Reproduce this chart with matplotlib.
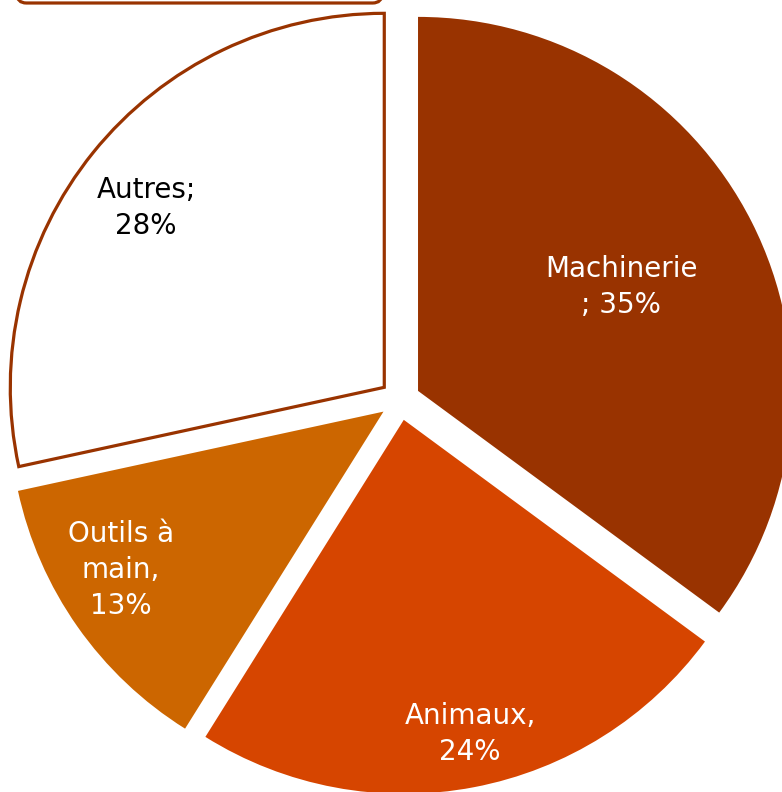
import matplotlib
matplotlib.use("Agg")
import matplotlib.pyplot as plt
from matplotlib.patches import FancyBboxPatch

categories = ["Machinerie", "Animaux", "Outils à main", "Autres"]
labels = ["Machinerie\n; 35%", "Animaux,\n24%", "Outils à\nmain,\n13%", "Autres;\n28%"]
values = [35.1, 23.8, 12.7, 28.4]

colors = ["#993300", "#D64500", "#CC6600", "#FFFFFF"]
text_colors = ["white", "white", "white", "black"]
dark = "#993300"

# layout (pixel-space mapping: centre at px (400,400), radius 374 px)
W, H = 782, 792
cx_px, cy_px, r_px = 400, 400, 374
label_px = [(621, 287), (470, 734), (121, 570), (146, 208)]

fig = plt.figure(figsize=(W / 100, H / 100), dpi=100)
ax = fig.add_axes([0, 0, 1, 1])

wedges, _ = ax.pie(values, colors=colors, startangle=90, counterclock=False,
                   explode=[0.054] * len(values), radius=1.0, center=(0, 0),
                   frame=True, wedgeprops=dict(linewidth=0))
wedges[3].set_edgecolor(dark)
wedges[3].set_linewidth(2.3)
wedges[3].set_joinstyle("miter")
ax.set_xlim(-cx_px / r_px, (W - cx_px) / r_px)
ax.set_ylim(-(H - cy_px) / r_px, cy_px / r_px)
ax.set_aspect("auto")
ax.axis("off")

for lab, (px, py), tc in zip(labels, label_px, text_colors):
    ax.text((px - cx_px) / r_px, (cy_px - py) / r_px, lab, ha="center", va="center",
            color=tc, fontsize=20, family="DejaVu Sans", linespacing=1.38)

# cropped title box at the top
box = FancyBboxPatch(((17 - cx_px) / r_px, (cy_px - 3) / r_px), (382 - 17) / r_px, 0.3,
                     boxstyle="round,pad=0,rounding_size=0.025",
                     facecolor="white", edgecolor=dark, linewidth=2.3)
ax.add_patch(box)

fig.savefig("out.png", dpi=100)
